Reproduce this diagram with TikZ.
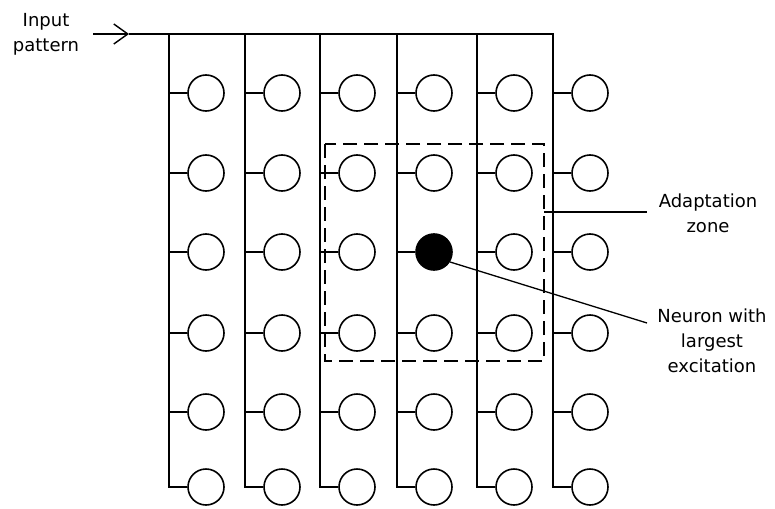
\documentclass[tikz,border=0pt]{standalone}
\usepackage{fontspec}
\setmainfont{DejaVu Sans}
\usetikzlibrary{arrows.meta,calc}
\begin{document}
\begin{tikzpicture}[x=1pt,y=-1pt,
  neuron/.style={circle,draw,line width=1.6pt,minimum size=36pt,inner sep=0pt},
  fill43/.style={fill=black},
  wire/.style={line width=1.4pt},
  leader/.style={line width=1.3pt},
  zone/.style={line width=1.5pt,dash pattern=on 14pt off 7pt},
  lbl/.style={font=\fontsize{18}{25}\selectfont,align=center,inner sep=0pt}]
\useasboundingbox (0,0) rectangle (775,508);
% neurons
\foreach \c/\x in {1/169,2/245,3/320,4/397,5/477,6/553}{
  \coordinate (t\c) at (\x,34);
  \foreach \r/\y in {1/93,2/173,3/252,4/333,5/412,6/487}{
    \node[neuron,fill\c\r/.try] (n\c\r) at (\x+37,\y) {};
  }
}
% input line with arrow
\coordinate (in) at (93,34);
\coordinate (ah) at (129,34);
\draw[wire,-{Straight Barb[length=14pt,width=20pt]}] (in) -- (ah);
\draw[wire] (ah) -- (t6) -- (n66.west -| t6) -- (n66.west);
% vertical buses
\foreach \c in {1,...,5}{
  \draw[wire] (t\c) |- (n\c6.west);
}
% stubs
\foreach \c in {1,...,6}{
  \foreach \r in {1,...,5}{
    \draw[wire] (n\c\r.west -| t\c) -- (n\c\r.west);
  }
}
% adaptation zone
\coordinate (z1) at (325,144);
\coordinate (z2) at (544,361);
\draw[zone] (z1) rectangle (z2);
% labels
\node[lbl] (inl) at (46,34) {Input\\pattern};
\node[lbl] (azl) at (708,213) {Adaptation\\zone};
\node[lbl] (nl) at (712,341) {Neuron with\\largest\\excitation};
\coordinate (zs) at (544,212);
\coordinate (ze) at (647,212);
\draw[leader] (zs) -- (ze);
\coordinate (ne) at (647,323);
\draw[leader] (n43.-32) -- (ne);
\end{tikzpicture}
\end{document}
